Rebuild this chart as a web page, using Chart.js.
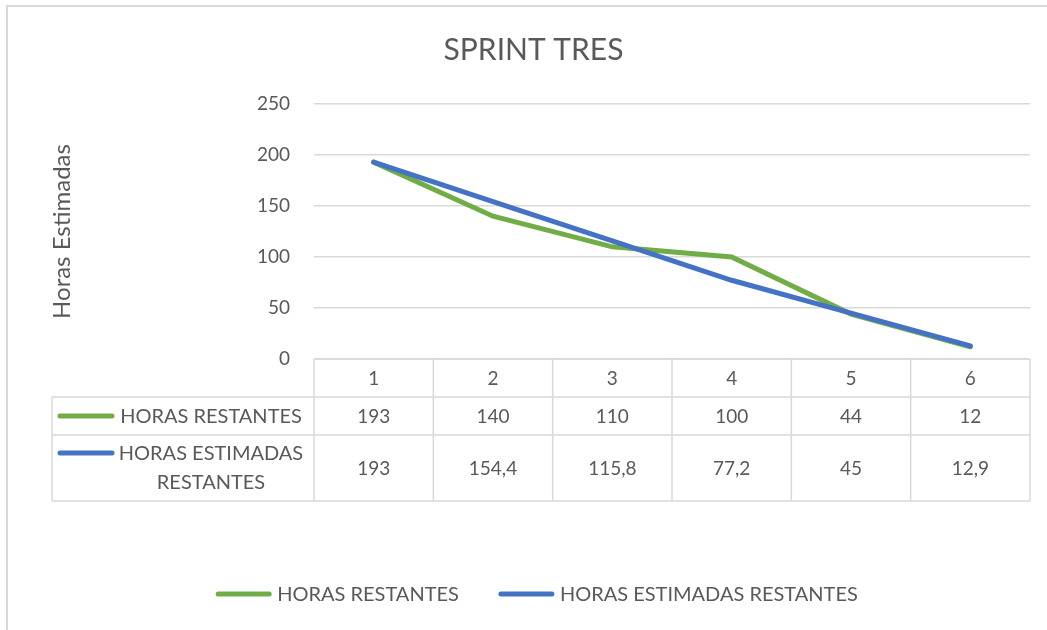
<!DOCTYPE html>
<html>
<head>
<meta charset="utf-8">
<script src="https://cdn.jsdelivr.net/npm/chart.js@4.4.1/dist/chart.umd.min.js"></script>
<style>
  html, body { margin: 0; padding: 0; background: #fff; }
  #wrap { width: 1047px; height: 630px; position: relative; }
</style>
</head>
<body>
<div id="wrap"><canvas id="c" width="1047" height="630"></canvas></div>
<script>
const categories = ['1', '2', '3', '4', '5', '6'];
const horasRestantes = [193, 140, 110, 100, 44, 12];
const horasEstimadas = [193, 154.4, 115.8, 77.2, 45, 12.9];
const seriesNames = ['HORAS RESTANTES', 'HORAS ESTIMADAS RESTANTES'];
const tableRowLabels = [['HORAS RESTANTES'], ['HORAS ESTIMADAS', 'RESTANTES']];
const yTicks = [0, 50, 100, 150, 200, 250];

const FONT = 'Lato, "Open Sans", sans-serif';
const TEXT = '#595959';
const GRID = '#d9d9d9';
const GREEN = '#70ad47';
const BLUE = '#4472c4';

function fmt(v) { return String(v).replace('.', ','); }

function swatch(ctx, color, x0, x1, y) {
  ctx.save();
  ctx.strokeStyle = color;
  ctx.lineWidth = 5;
  ctx.lineCap = 'round';
  ctx.beginPath();
  ctx.moveTo(x0, y);
  ctx.lineTo(x1, y);
  ctx.stroke();
  ctx.restore();
}

// Outer frame, data table under the plot (aligned to the category scale) and bottom legend.
const dataTable = {
  id: 'dataTable',
  beforeDraw(chart) {
    const ctx = chart.ctx;
    ctx.save();
    ctx.strokeStyle = GRID;
    ctx.lineWidth = 2;
    ctx.beginPath();
    ctx.moveTo(7, 640);
    ctx.lineTo(7, 6);
    ctx.lineTo(1060, 6);
    ctx.stroke();
    ctx.restore();
  },
  afterDraw(chart) {
    const ctx = chart.ctx;
    const x = chart.scales.x;
    const area = chart.chartArea;
    const colW = (area.right - area.left) / categories.length;
    const top = area.bottom;
    const rowY = [top, top + 38, top + 76, top + 142];
    const tableLeft = 52;

    ctx.save();
    ctx.strokeStyle = GRID;
    ctx.lineWidth = 1.5;
    ctx.beginPath();
    ctx.moveTo(area.left, rowY[0]); ctx.lineTo(area.right, rowY[0]);
    for (let r = 1; r < rowY.length; r++) {
      ctx.moveTo(tableLeft, rowY[r]); ctx.lineTo(area.right, rowY[r]);
    }
    ctx.moveTo(tableLeft, rowY[1]); ctx.lineTo(tableLeft, rowY[3]);
    for (let i = 0; i <= categories.length; i++) {
      const px = area.left + i * colW;
      ctx.moveTo(px, rowY[0]); ctx.lineTo(px, rowY[3]);
    }
    ctx.stroke();

    ctx.fillStyle = TEXT;
    ctx.font = '19px ' + FONT;
    ctx.textAlign = 'center';
    ctx.textBaseline = 'middle';
    const rows = [horasRestantes, horasEstimadas];
    categories.forEach((c, i) => {
      const cx = x.getPixelForValue(i);
      ctx.fillText(c, cx, (rowY[0] + rowY[1]) / 2 + 1);
      rows.forEach((vals, r) => {
        ctx.fillText(fmt(vals[i]), cx, (rowY[r + 1] + rowY[r + 2]) / 2 + 1);
      });
    });

    const colors = [GREEN, BLUE];
    ctx.font = '20px ' + FONT;
    tableRowLabels.forEach((lines, r) => {
      const sy = r === 0 ? (rowY[1] + rowY[2]) / 2 : rowY[2] + 18;
      swatch(ctx, colors[r], 60, 112, sy);
      lines.forEach((t, k) => {
        ctx.fillText(t, 211, sy + k * 29 + 1);
      });
    });

    // legend
    const legY = 594;
    const sw = 55, gap = 6, itemGap = 40;
    ctx.textAlign = 'left';
    const widths = seriesNames.map(n => ctx.measureText(n).width);
    const total = widths.reduce((s, w) => s + sw + gap + w, 0) + itemGap;
    let lx = 537 - total / 2;
    seriesNames.forEach((n, i) => {
      swatch(ctx, colors[i], lx + 2, lx + sw - 2, legY);
      ctx.fillText(n, lx + sw + gap, legY + 1);
      lx += sw + gap + widths[i] + itemGap;
    });
    ctx.restore();
  }
};

new Chart(document.getElementById('c'), {
  type: 'line',
  data: {
    labels: categories,
    datasets: [
      {
        label: seriesNames[0],
        data: horasRestantes,
        borderColor: GREEN,
        backgroundColor: GREEN,
        borderWidth: 5,
        pointRadius: 0,
        borderCapStyle: 'round',
        tension: 0,
        order: 1
      },
      {
        label: seriesNames[1],
        data: horasEstimadas,
        borderColor: BLUE,
        backgroundColor: BLUE,
        borderWidth: 5,
        pointRadius: 0,
        borderCapStyle: 'round',
        tension: 0,
        order: 0
      }
    ]
  },
  options: {
    responsive: false,
    animation: false,
    layout: { padding: { left: 37, right: 17, top: 10, bottom: 71 } },
    plugins: {
      title: {
        display: true,
        text: 'SPRINT TRES',
        color: TEXT,
        font: { family: FONT, size: 30, weight: 'normal' },
        padding: { top: 22, bottom: 36 }
      },
      legend: { display: false },
      tooltip: { enabled: false }
    },
    scales: {
      x: {
        offset: true,
        grid: { display: false },
        border: { display: false },
        ticks: { display: false },
        afterFit(scale) { scale.height = 200; }
      },
      y: {
        min: 0,
        max: 250,
        afterBuildTicks(scale) { scale.ticks = yTicks.map(v => ({ value: v })); },
        grid: { color: GRID, lineWidth: 1.5, drawTicks: false },
        border: { display: false },
        ticks: { color: TEXT, font: { family: FONT, size: 19 }, padding: 24 },
        title: {
          display: true,
          text: 'Horas Estimadas',
          color: TEXT,
          font: { family: FONT, size: 24 },
          padding: { top: 11, bottom: 0 }
        },
        afterFit(scale) { scale.width = 277; }
      }
    }
  },
  plugins: [dataTable]
});
</script>
</body>
</html>
